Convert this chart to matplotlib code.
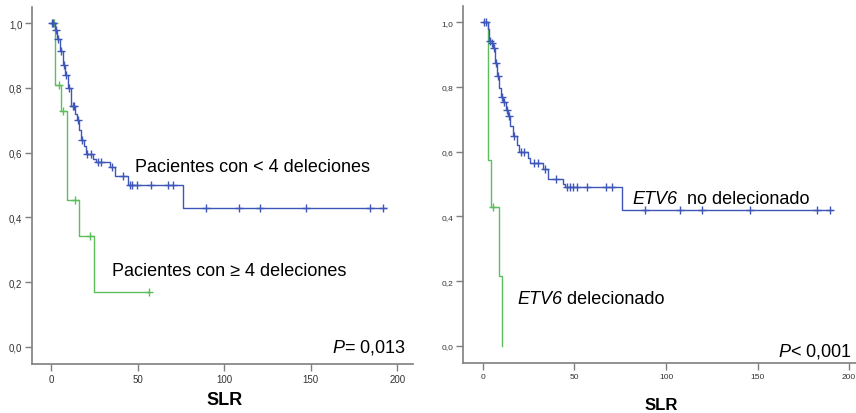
import numpy as np
import matplotlib
matplotlib.use("Agg")
import matplotlib.pyplot as plt

plt.rcParams["font.family"] = ["Liberation Sans", "DejaVu Sans"]
plt.rcParams["mathtext.fontset"] = "custom"
plt.rcParams["mathtext.rm"] = "Liberation Sans"
plt.rcParams["mathtext.it"] = "Liberation Sans:italic"
plt.rcParams["mathtext.bf"] = "Liberation Sans:bold"

# Left panel: patients with < 4 deletions (blue) and >= 4 deletions (green)
left_blue_times = [0, 2, 3.4, 5, 7, 8, 9.5, 11.5, 14, 15, 16, 17.5, 19, 20, 24, 26, 34, 37, 44.5, 76.4]
left_blue_surv = [1.0, 0.98, 0.95, 0.915, 0.87, 0.84, 0.80, 0.745, 0.72, 0.70, 0.67, 0.64, 0.62, 0.596,
                  0.58, 0.571, 0.556, 0.528, 0.50, 0.43]
left_blue_end = 193.5
left_blue_cens = [0.5, 1.2, 2.6, 4, 6, 7.5, 8.5, 10.5, 12.5, 13.5, 15.5, 18, 21, 23, 27, 29, 35, 41.7,
                  45.6, 46.7, 49.4, 58, 67.7, 70.6, 89.4, 108.5, 120.6, 147.5, 184.2, 191.6]

left_green_times = [0, 2.3, 5.8, 9, 16, 25]
left_green_surv = [1.0, 0.81, 0.73, 0.455, 0.342, 0.171]
left_green_end = 56.5
left_green_cens = [1.5, 4.8, 7.1, 13.9, 22.5, 56.5]

# Right panel: ETV6 not deleted (blue) and ETV6 deleted (green)
right_blue_times = [0, 2.5, 3.3, 4.7, 5.5, 6.5, 7.7, 8.9, 9.8, 11, 12.5, 13.8, 15, 16.5, 18.5, 19.8,
                    24.4, 25.7, 33, 35.5, 44, 45, 75.8]
right_blue_surv = [1.0, 0.98, 0.942, 0.935, 0.92, 0.873, 0.835, 0.796, 0.77, 0.752, 0.728, 0.709, 0.68,
                   0.65, 0.62, 0.60, 0.58, 0.565, 0.548, 0.517, 0.50, 0.49, 0.42]
right_blue_end = 190.7
right_blue_cens = [0.5, 1.5, 4, 5, 6, 7, 8, 10.5, 11.5, 13, 14.5, 17, 21, 22.5, 28, 30, 34, 40,
                   45.7, 47.5, 49.3, 51.2, 56.7, 67.2, 70.3, 88.5, 107.7, 119.5, 145.9, 182.3, 189.6]

right_green_times = [0, 2.7, 4.4, 8.7, 10.2]
right_green_surv = [1.0, 0.574, 0.43, 0.215, 0.0]
right_green_end = 10.2
right_green_cens = [5.6]

blue = "#3d56b8"
green = "#5cbf5c"
gray = "#7f7f7f"


def km(ax, times, surv, end, cens, color):
    t = np.append(times, end)
    s = np.append(surv, surv[-1])
    ax.step(t, s, where="post", color=color, lw=1.0)
    idx = np.searchsorted(times, cens, side="right") - 1
    cy = np.array(surv)[idx]
    ax.plot(cens, cy, ls="none", marker="+", ms=6, mew=1.0, color=color)


def style(ax, xlim, tick_fs):
    ax.set_xlim(*xlim)
    ax.set_ylim(-0.0525, 1.05)
    ax.set_xticks([0, 50, 100, 150, 200])
    ax.set_yticks([0, 0.2, 0.4, 0.6, 0.8, 1.0])
    ax.set_yticklabels(["0,0", "0,2", "0,4", "0,6", "0,8", "1,0"])
    ax.tick_params(labelsize=tick_fs, colors="#333333", length=5, width=1, pad=2)
    ax.tick_params(color=gray)
    for sp in ["top", "right"]:
        ax.spines[sp].set_visible(False)
    for sp in ["left", "bottom"]:
        ax.spines[sp].set_color(gray)
        ax.spines[sp].set_linewidth(1.2)


def mixed_label(ax, x, y, italic_part, rest):
    t1 = ax.text(x, y, italic_part, fontsize=13, style="italic", va="center", ha="left")
    ax.annotate(rest, xy=(1, 0.5), xycoords=t1, fontsize=13, va="center", ha="left")


fig = plt.figure(figsize=(8.56, 4.14), dpi=100)
ax1 = fig.add_axes([32 / 856, 49 / 414, 381 / 856, 357 / 414])
ax2 = fig.add_axes([463 / 856, 50 / 414, 393 / 856, 357 / 414])

km(ax1, left_green_times, left_green_surv, left_green_end, left_green_cens, green)
km(ax1, left_blue_times, left_blue_surv, left_blue_end, left_blue_cens, blue)
style(ax1, (-11, 209), 7)

km(ax2, right_green_times, right_green_surv, right_green_end, right_green_cens, green)
km(ax2, right_blue_times, right_blue_surv, right_blue_end, right_blue_cens, blue)
style(ax2, (-10.9, 203.8), 6)

ax1.text(48.5, 0.556, "Pacientes con < 4 deleciones", fontsize=13, va="center", ha="left")
ax1.text(35.2, 0.235, "Pacientes con \u2265 4 deleciones", fontsize=13, va="center", ha="left")
ax1.text(204.8, 0.0, "$\\mathit{P}$= 0,013", fontsize=13, va="center", ha="right")
fig.text(225 / 856, 1 - 401 / 414, "SLR", fontsize=13, fontweight="bold", ha="center", va="center")

mixed_label(ax2, 81.4, 0.455, "ETV6", "  no delecionado")
mixed_label(ax2, 18.6, 0.146, "ETV6", " delecionado")
ax2.text(201.6, -0.015, "$\\mathit{P}$< 0,001", fontsize=13, va="center", ha="right")
fig.text(661 / 856, 1 - 406 / 414, "SLR", fontsize=12, fontweight="bold", ha="center", va="center")

plt.savefig("out.png", dpi=100)
plt.close()
